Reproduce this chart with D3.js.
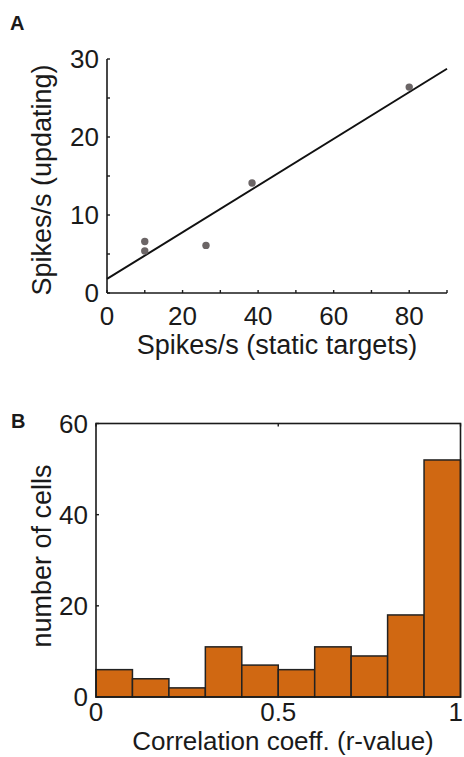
<!DOCTYPE html>
<html>
<head>
<meta charset="utf-8">
<script src="https://cdn.jsdelivr.net/npm/d3@7"></script>
<style>
  body { margin: 0; background: #fff; }
  text { font-family: "Liberation Sans", Arial, sans-serif; fill: #1a1a1a; }
</style>
</head>
<body>
<script>
// panel A: firing rates
const staticRate = [10, 10, 26.2, 38.4, 80];
const updatingRate = [6.6, 5.4, 6.1, 14.1, 26.4];
const fitLine = [[0, 1.8], [90, 28.75]];
const xTicksA = [0, 20, 40, 60, 80];
const yTicksA = [0, 10, 20, 30];

// panel B: histogram of r-values
const binStart = [0, 0.1, 0.2, 0.3, 0.4, 0.5, 0.6, 0.7, 0.8, 0.9];
const cellCounts = [6, 4, 2, 11, 7, 6, 11, 9, 18, 52];
const xTicksB = [0, 0.5, 1];
const yTicksB = [0, 20, 40, 60];

const w = 464, h = 757;
const svg = d3.select('body').append('svg').attr('width', w).attr('height', h);
const ink = '#1a1a1a';
const fs = '26px';

// ---------- A ----------
const xA = d3.scaleLinear().domain([0, 90]).range([107, 447]);
const yA = d3.scaleLinear().domain([0, 30]).range([293, 59]);

svg.append('text').attr('x', 10).attr('y', 30).text('A')
  .style('font-weight', 'bold').style('font-size', '20px');

const gA = svg.append('g');
// axis lines
gA.append('line').attr('x1', xA(0)).attr('x2', xA(0)).attr('y1', yA(0)).attr('y2', yA(30))
  .attr('stroke', ink).attr('stroke-width', 1.6);
gA.append('line').attr('x1', xA(0)).attr('x2', xA(90)).attr('y1', yA(0)).attr('y2', yA(0))
  .attr('stroke', ink).attr('stroke-width', 1.6);

// inward ticks, major + minor
d3.range(0, 91, 10).forEach(v => {
  gA.append('line').attr('x1', xA(v)).attr('x2', xA(v)).attr('y1', yA(0)).attr('y2', yA(0) - 3)
    .attr('stroke', ink).attr('stroke-width', 1.4);
});
d3.range(0, 31, 5).forEach(v => {
  gA.append('line').attr('x1', xA(0)).attr('x2', xA(0) + 3).attr('y1', yA(v)).attr('y2', yA(v))
    .attr('stroke', ink).attr('stroke-width', 1.4);
});

gA.selectAll('.xt').data(xTicksA).enter().append('text')
  .attr('x', d => xA(d)).attr('y', 325).attr('text-anchor', 'middle')
  .style('font-size', fs).text(d => d);
gA.selectAll('.yt').data(yTicksA).enter().append('text')
  .attr('x', 99).attr('y', d => yA(d) + 9).attr('text-anchor', 'end')
  .style('font-size', fs).text(d => d);

gA.append('text').attr('x', 277).attr('y', 354).attr('text-anchor', 'middle')
  .style('font-size', '27px').text('Spikes/s (static targets)');
gA.append('text').attr('transform', 'translate(51,180) rotate(-90)').attr('text-anchor', 'middle')
  .style('font-size', '27px').text('Spikes/s (updating)');

// regression line
gA.append('path').datum(fitLine)
  .attr('d', d3.line().x(d => xA(d[0])).y(d => yA(d[1])))
  .attr('stroke', '#111').attr('stroke-width', 2).attr('fill', 'none');

gA.selectAll('circle').data(staticRate).enter().append('circle')
  .attr('cx', d => xA(d)).attr('cy', (d, i) => yA(updatingRate[i]))
  .attr('r', 3.7).attr('fill', '#6b6566');

// ---------- B ----------
const xB = d3.scaleLinear().domain([0, 1]).range([96, 460.5]);
const yB = d3.scaleLinear().domain([0, 60]).range([697, 423.5]);

svg.append('text').attr('x', 11).attr('y', 428).text('B')
  .style('font-weight', 'bold').style('font-size', '20px');

const gB = svg.append('g');
gB.selectAll('rect').data(cellCounts).enter().append('rect')
  .attr('x', (d, i) => xB(binStart[i])).attr('width', xB(0.1) - xB(0))
  .attr('y', d => yB(d)).attr('height', d => yB(0) - yB(d))
  .attr('fill', '#d06812').attr('stroke', '#222').attr('stroke-width', 1.5);

gB.append('rect').attr('x', xB(0)).attr('y', yB(60))
  .attr('width', xB(1) - xB(0)).attr('height', yB(0) - yB(60))
  .attr('fill', 'none').attr('stroke', ink).attr('stroke-width', 1.6);

xTicksB.forEach(v => {
  gB.append('line').attr('x1', xB(v)).attr('x2', xB(v)).attr('y1', yB(60)).attr('y2', yB(60) + 3)
    .attr('stroke', ink).attr('stroke-width', 1.4);
});
yTicksB.forEach(v => {
  gB.append('line').attr('x1', xB(0)).attr('x2', xB(0) + 3).attr('y1', yB(v)).attr('y2', yB(v))
    .attr('stroke', ink).attr('stroke-width', 1.4);
});

gB.selectAll('.xt').data(xTicksB).enter().append('text')
  .attr('x', d => d === 1 ? 463 : xB(d)).attr('y', 721)
  .attr('text-anchor', d => d === 1 ? 'end' : 'middle')
  .style('font-size', fs).text(d => d);
gB.selectAll('.yt').data(yTicksB).enter().append('text')
  .attr('x', 88).attr('y', d => yB(d) + 9).attr('text-anchor', 'end')
  .style('font-size', fs).text(d => d);

gB.append('text').attr('x', 283).attr('y', 750).attr('text-anchor', 'middle')
  .style('font-size', '26px').text('Correlation coeff. (r-value)');
gB.append('text').attr('transform', 'translate(51,556) rotate(-90)').attr('text-anchor', 'middle')
  .style('font-size', '27px').text('number of cells');
</script>
</body>
</html>
